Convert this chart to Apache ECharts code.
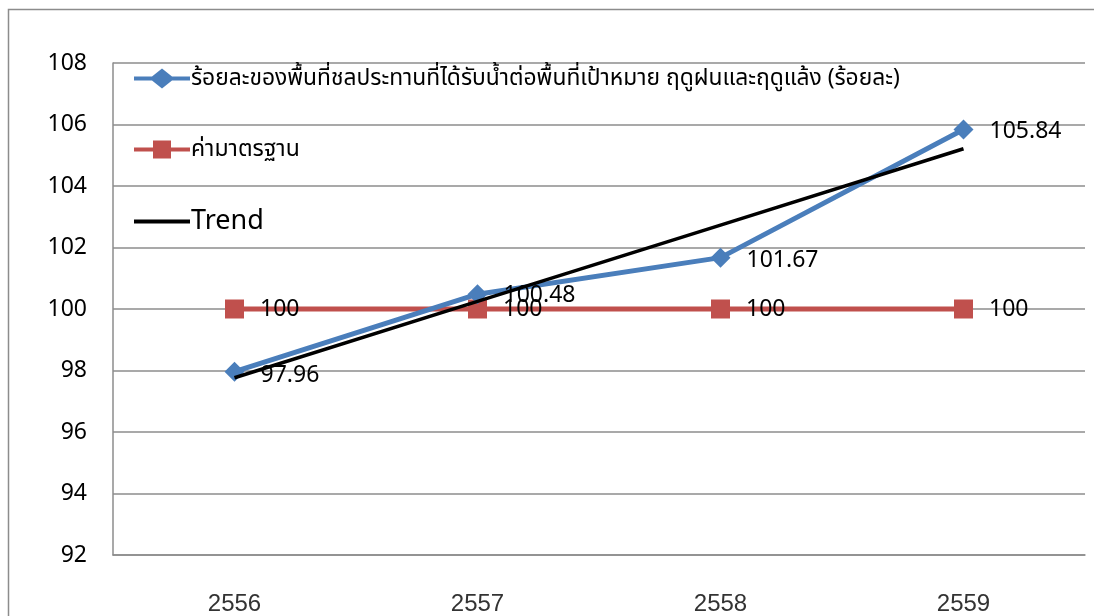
<!DOCTYPE html>
<html>
<head>
<meta charset="utf-8">
<script src="https://cdn.jsdelivr.net/npm/echarts@6/dist/echarts.min.js"></script>
<style>
  html, body { margin: 0; padding: 0; background: #fff; }
  #chart { width: 1094px; height: 616px; }
</style>
</head>
<body>
<div id="chart"></div>
<script>
// Fiscal years (Buddhist era)
const years = ['2556', '2557', '2558', '2559'];
// Percentage of irrigated area receiving water vs. target area, wet and dry season
const irrigated = [97.96, 100.48, 101.67, 105.84];
// Standard value
const standard = [100, 100, 100, 100];
// Y axis ticks
const yMin = 92, yMax = 108, yStep = 2;

const nameIrrigated = 'ร้อยละของพื้นที่ชลประทานที่ได้รับน้ำต่อพื้นที่เป้าหมาย ฤดูฝนและฤดูแล้ง (ร้อยละ)';
const nameStandard = 'ค่ามาตรฐาน';
const nameTrend = 'Trend';

// Least-squares linear trend over the irrigated series
function linearTrend(vals) {
  const n = vals.length;
  const mx = (n - 1) / 2;
  const my = vals.reduce((a, b) => a + b, 0) / n;
  let sxy = 0, sxx = 0;
  vals.forEach((v, i) => { sxy += (i - mx) * (v - my); sxx += (i - mx) * (i - mx); });
  const slope = sxy / sxx;
  return vals.map((_, i) => +(my + slope * (i - mx)).toFixed(3));
}
const trend = linearTrend(irrigated);

const thaiFont = '"Noto Sans", "Noto Sans Thai", "Tahoma", sans-serif';
const numFont = '"Noto Sans", "Open Sans", sans-serif';

// Legend icons: a short line with the series marker on top (56 x 20 box)
const iconDiamond = 'path://M0,8 L18,8 L28,0 L38,8 L56,8 L56,12 L38,12 L28,20 L18,12 L0,12 Z';
const iconSquare = 'path://M0,8 L19,8 L19,1 L37,1 L37,8 L56,8 L56,12 L37,12 L37,19 L19,19 L19,12 L0,12 Z';
const iconLine = 'path://M0,8 L56,8 L56,12 L0,12 Z';

const chart = echarts.init(document.getElementById('chart'), null, { renderer: 'canvas' });

const legendBase = {
  left: 134,
  orient: 'vertical',
  itemWidth: 56,
  itemHeight: 20,
  itemGap: 4,
  selectedMode: false,
  padding: 0
};

chart.setOption({
  animation: false,
  backgroundColor: '#fff',
  graphic: [{
    type: 'rect',
    shape: { x: 8.5, y: 9.5, width: 1200, height: 700 },
    style: { fill: 'none', stroke: '#8c8c8c', lineWidth: 1.5 },
    silent: true,
    z: -10
  }],
  legend: [
    Object.assign({}, legendBase, {
      top: 67,
      data: [{ name: nameIrrigated, icon: iconDiamond }],
      textStyle: { fontFamily: thaiFont, fontSize: 22.8, color: '#000', padding: [0, 0, 0, -4] }
    }),
    Object.assign({}, legendBase, {
      top: 138,
      data: [{ name: nameStandard, icon: iconSquare }],
      textStyle: { fontFamily: thaiFont, fontSize: 23, color: '#000', padding: [0, 0, 0, -4] }
    }),
    Object.assign({}, legendBase, {
      top: 208,
      data: [{ name: nameTrend, icon: iconLine }],
      textStyle: { fontFamily: numFont, fontSize: 27, color: '#000', padding: [0, 0, 0, -4] }
    })
  ],
  grid: { left: 113, top: 63, right: 9, bottom: 59, containLabel: false },
  xAxis: {
    type: 'category',
    data: years,
    boundaryGap: true,
    axisLine: { show: true, lineStyle: { color: '#8c8c8c', width: 1.5 } },
    axisTick: { show: false },
    axisLabel: { fontFamily: '"Liberation Sans", Arial, sans-serif', fontSize: 24, color: '#333', margin: 37 }
  },
  yAxis: {
    type: 'value',
    min: yMin,
    max: yMax,
    interval: yStep,
    axisLine: { show: true, lineStyle: { color: '#8c8c8c', width: 1.5 } },
    axisTick: { show: false },
    axisLabel: { fontFamily: numFont, fontSize: 23, color: '#000', margin: 26 },
    splitLine: { show: true, lineStyle: { color: '#8c8c8c', width: 1.5 } }
  },
  series: [
    {
      name: nameIrrigated,
      type: 'line',
      data: irrigated,
      symbol: 'diamond',
      symbolSize: 20,
      itemStyle: { color: '#4a7ebb' },
      lineStyle: { color: '#4a7ebb', width: 5 },
      label: {
        show: true,
        position: 'right',
        distance: 16,
        fontFamily: numFont,
        fontSize: 23,
        color: '#000',
        formatter: p => p.value.toFixed(2)
      },
      labelLayout: function (params) {
        const offsets = [4, 1, 3, 2];
        return { dy: offsets[params.dataIndex] };
      },
      z: 3
    },
    {
      name: nameStandard,
      type: 'line',
      data: standard,
      symbol: 'rect',
      symbolSize: 19,
      itemStyle: { color: '#c0504d' },
      lineStyle: { color: '#c0504d', width: 5 },
      label: {
        show: true,
        position: 'right',
        distance: 16,
        fontFamily: numFont,
        fontSize: 23,
        color: '#000'
      },
      z: 2
    },
    {
      name: nameTrend,
      type: 'line',
      data: trend,
      symbol: 'none',
      lineStyle: { color: '#000', width: 3.5 },
      itemStyle: { color: '#000' },
      z: 4
    }
  ]
});
</script>
</body>
</html>
